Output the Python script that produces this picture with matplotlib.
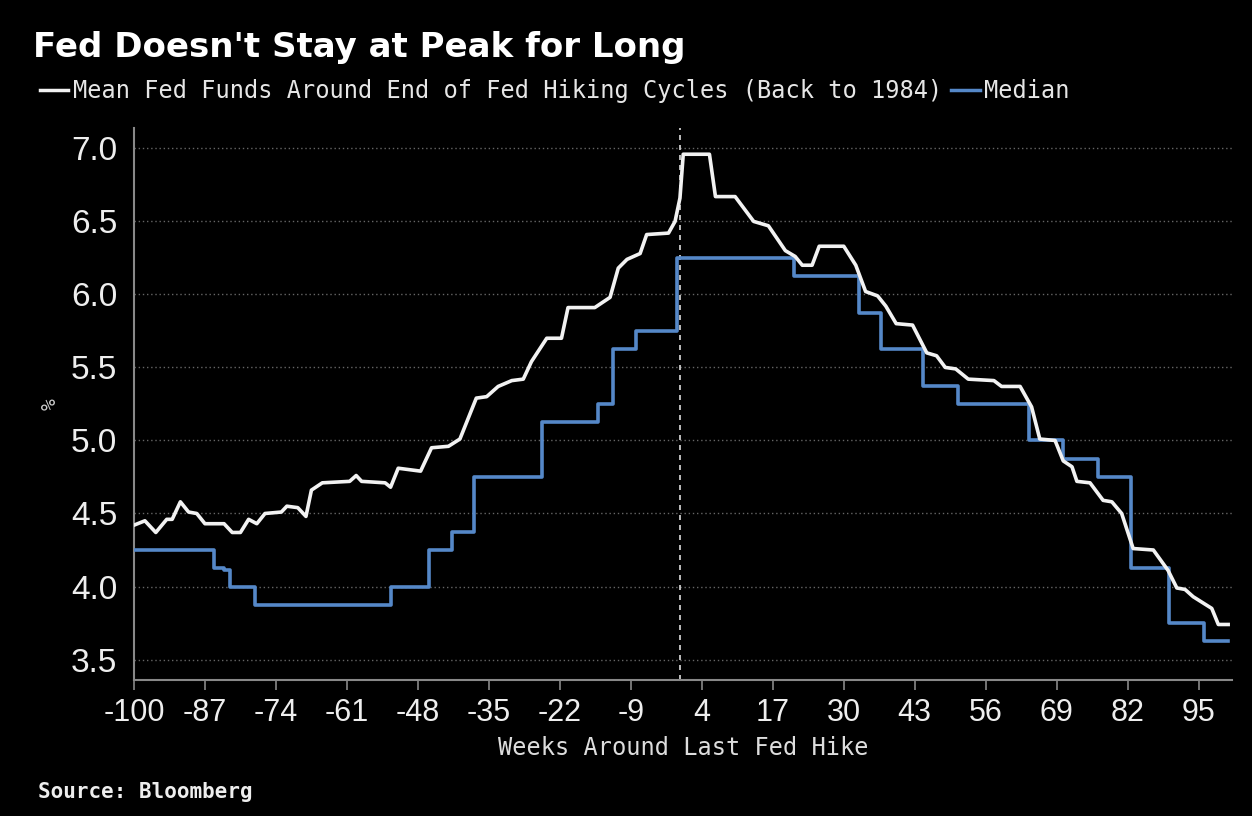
import matplotlib
matplotlib.use("Agg")
import matplotlib.pyplot as plt
from matplotlib.lines import Line2D

plt.rcParams["axes.unicode_minus"] = False

# mean fed funds around end of hiking cycles (week, %)
mean_weeks = [-100, -98, -96, -94, -93, -91.5, -90, -88.5, -87, -83.5, -82, -80.5, -79, -77.5,
              -76, -73, -72, -70, -68.5, -67.5, -65.5, -60.5, -59.3, -58.3, -54, -53, -51.6,
              -47.5, -45.5, -42.4, -40.3, -37.3, -35.4, -33.3, -30.8, -28.7, -27.2, -24.4,
              -21.7, -20.5, -15.6, -12.8, -11.3, -9.7, -7.3, -6.1, -2.1, -0.9, 0, 0.6, 5.4,
              6.5, 10.1, 11.9, 13.5, 16.2, 19.3, 21.1, 22.4, 24.2, 25.5, 30, 32.2, 34, 36.2,
              37.7, 39.6, 42.6, 45.2, 47, 48.6, 50.5, 52.8, 57.5, 58.9, 62.3, 64.4, 65.9,
              68.7, 70.2, 71.8, 72.7, 75.1, 77.5, 79.1, 80.9, 83, 86.7, 89.4, 91, 92.5, 94,
              97.4, 98.6, 100.4]
mean_vals = [4.42, 4.45, 4.37, 4.46, 4.46, 4.58, 4.51, 4.50, 4.43, 4.43, 4.37, 4.37, 4.46, 4.43,
             4.50, 4.51, 4.55, 4.54, 4.48, 4.66, 4.71, 4.72, 4.76, 4.72, 4.71, 4.68, 4.81,
             4.79, 4.95, 4.96, 5.01, 5.29, 5.30, 5.37, 5.41, 5.42, 5.54, 5.70,
             5.70, 5.91, 5.91, 5.98, 6.18, 6.24, 6.28, 6.41, 6.42, 6.50, 6.66, 6.96, 6.96,
             6.67, 6.67, 6.58, 6.50, 6.47, 6.30, 6.26, 6.20, 6.20, 6.33, 6.33, 6.20, 6.02, 5.99,
             5.92, 5.80, 5.79, 5.60, 5.58, 5.50, 5.49, 5.42, 5.41, 5.37, 5.37, 5.23, 5.01,
             5.00, 4.86, 4.82, 4.72, 4.71, 4.59, 4.58, 4.50, 4.26, 4.25, 4.11, 3.99, 3.98, 3.93,
             3.85, 3.74, 3.74]

# median: week where each level starts
median_weeks = [-100, -85.3, -83.5, -82.5, -77.8, -53, -46, -41.7, -37.8, -25.2, -15, -12.2,
                -8, -0.5, 20.8, 32.8, 36.8, 44.6, 51, 64, 70.2, 76.5, 82.6, 89.6, 96, 100.4]
median_vals = [4.25, 4.13, 4.11, 4.00, 3.875, 4.00, 4.25, 4.375, 4.75, 5.125, 5.25, 5.625,
               5.75, 6.25, 6.125, 5.875, 5.625, 5.375, 5.25, 5.00, 4.875, 4.75, 4.125, 3.75,
               3.625, 3.625]

xticks = list(range(-100, 100, 13))
yticks = [3.5, 4.0, 4.5, 5.0, 5.5, 6.0, 6.5, 7.0]

bg = "black"
white = "#f2f2f2"
blue = "#5588c8"
num_font = "Liberation Sans"
mono = "DejaVu Sans Mono"

fig = plt.figure(figsize=(12.52, 8.16), dpi=100, facecolor=bg)
ax = fig.add_axes([0.107, 0.1667, 0.877, 0.6765], facecolor=bg)

ax.plot(median_weeks, median_vals, color=blue, lw=2.6, drawstyle="steps-post", zorder=3)
ax.plot(mean_weeks, mean_vals, color=white, lw=2.6, zorder=4)
ax.axvline(0, color="#dddddd", lw=1.2, ls=(0, (3, 3)), zorder=2)

ax.set_xlim(-100, 101.1)
ax.set_ylim(3.36, 7.14)
ax.set_xticks(xticks)
ax.set_yticks(yticks)
ax.set_yticklabels([f"{v:.1f}" for v in yticks])
ax.grid(axis="y", color="#666666", ls=(0, (1, 2)), lw=1.0)
ax.grid(axis="x", visible=False)

for s in ["top", "right"]:
    ax.spines[s].set_visible(False)
for s in ["left", "bottom"]:
    ax.spines[s].set_color("#888888")
    ax.spines[s].set_linewidth(1.5)

ax.tick_params(axis="x", colors="#888888", length=7, width=1.2, pad=6,
               labelcolor="#eeeeee", labelsize=22)
ax.tick_params(axis="y", length=0, pad=12, labelcolor="#eeeeee", labelsize=24)
for lab in ax.get_xticklabels() + ax.get_yticklabels():
    lab.set_family(num_font)

ax.set_xlabel("Weeks Around Last Fed Hike", color="#dddddd", fontsize=17,
              family=mono, labelpad=6)
ax.set_ylabel("%", color="#cccccc", fontsize=14, family=mono, labelpad=8)

fig.text(0.026, 0.93, "Fed Doesn't Stay at Peak for Long", color="white",
         fontsize=24.5, fontweight="bold", family="DejaVu Sans", va="baseline")

handles = [Line2D([], [], color=white, lw=2.5), Line2D([], [], color=blue, lw=2.5)]
labels = ["Mean Fed Funds Around End of Fed Hiking Cycles (Back to 1984)", "Median"]
leg = fig.legend(handles, labels, loc="upper left", bbox_to_anchor=(0.026, 0.912), ncol=2,
                 frameon=False, handlelength=1.2, handletextpad=0.2, columnspacing=0.4,
                 borderaxespad=0, borderpad=0.3, prop={"family": mono, "size": 17})
for t in leg.get_texts():
    t.set_color("#e6e6e6")

fig.text(0.03, 0.022, "Source: Bloomberg", color="#eeeeee", fontsize=15,
         fontweight="bold", family=mono)

fig.savefig("out.png", dpi=100, facecolor=bg)
